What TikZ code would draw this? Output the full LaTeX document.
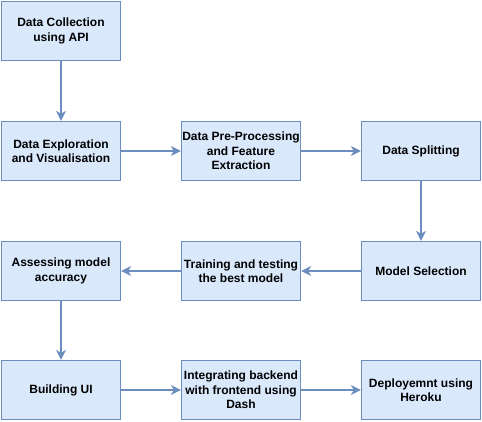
\documentclass[tikz,border=0pt]{standalone}
\usepackage{fontspec}
\setmainfont{Liberation Sans}
\usetikzlibrary{arrows.meta}
\definecolor{boxfill}{HTML}{DAE8FC}
\definecolor{boxline}{HTML}{6C8EBF}
\begin{document}
\begin{tikzpicture}[x=1pt,y=-1pt,
    stagebox/.style={draw=boxline,fill=boxfill,line width=1.3pt,minimum width=119pt,minimum height=59pt,
      align=center,font=\bfseries\fontsize{12}{14.5}\selectfont,inner sep=0pt},
    flow/.style={draw=boxline,line width=1.3pt,-{Stealth[length=10pt,width=10pt,inset=3pt]}}]
    \useasboundingbox (0,0) rectangle (482,421);
    \newcommand{\ca}{61}
    \newcommand{\cb}{241}
    \newcommand{\cc}{421}
    % stages
    \node[stagebox] (collect) at (\ca,31) {Data Collection\\using API};
    \node[stagebox] (explore) at (\ca,151) {Data Exploration\\and Visualisation};
    \node[stagebox] (prep) at (\cb,151) {Data Pre-Processing\\and Feature\\Extraction};
    \node[stagebox] (split) at (\cc,151) {Data Splitting};
    \node[stagebox] (select) at (\cc,271) {Model Selection};
    \node[stagebox] (train) at (\cb,271) {Training and testing\\the best model};
    \node[stagebox] (assess) at (\ca,271) {Assessing model\\accuracy};
    \node[stagebox] (ui) at (\ca,390) {Building UI};
    \node[stagebox] (integ) at (\cb,390) {Integrating backend\\with frontend using\\Dash};
    \node[stagebox] (deploy) at (\cc,390) {Deployemnt using\\Heroku};
    % connectors
    \draw[flow] (collect) -- (explore);
    \draw[flow] (explore) -- (prep);
    \draw[flow] (prep) -- (split);
    \draw[flow] (split) -- (select);
    \draw[flow] (select) -- (train);
    \draw[flow] (train) -- (assess);
    \draw[flow] (assess) -- (ui);
    \draw[flow] (ui) -- (integ);
    \draw[flow] (integ) -- (deploy);
\end{tikzpicture}
\end{document}
